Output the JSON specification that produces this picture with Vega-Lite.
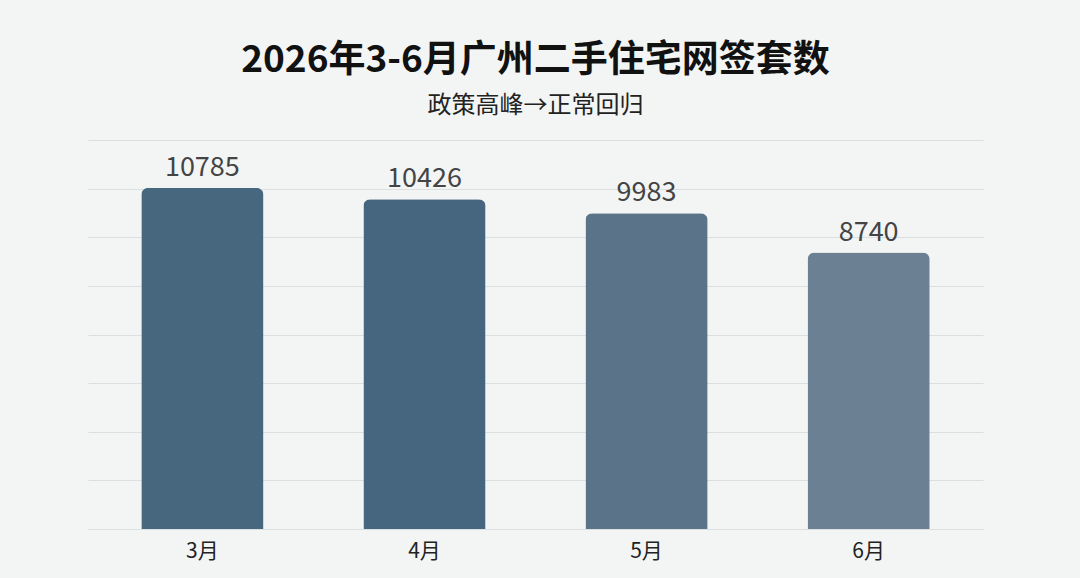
{
  "$schema": "https://vega.github.io/schema/vega-lite/v6.json",
  "width": 895,
  "height": 389,
  "autosize": "none",
  "padding": {"left": 88, "top": 140, "right": 97, "bottom": 49},
  "background": "#f3f5f4",
  "config": {
    "view": {"stroke": "transparent"},
    "font": "Noto Sans CJK SC"
  },
  "title": {
    "text": "2026年3-6月广州二手住宅网签套数",
    "subtitle": "政策高峰→正常回归",
    "anchor": "middle",
    "font": "Noto Sans CJK SC",
    "fontSize": 37,
    "fontWeight": "bold",
    "color": "#111111",
    "subtitleFont": "Noto Sans CJK SC",
    "subtitleFontSize": 24,
    "subtitleColor": "#222222",
    "subtitlePadding": 14,
    "offset": 21
  },
  "data": {
    "values": [
      {"month": "3月", "count": 10785},
      {"month": "4月", "count": 10426},
      {"month": "5月", "count": 9983},
      {"month": "6月", "count": 8740}
    ]
  },
  "encoding": {
    "x": {
      "field": "month",
      "type": "nominal",
      "sort": null,
      "title": null,
      "scale": {"paddingInner": 0.45, "paddingOuter": 0.24},
      "axis": {
        "labelAngle": 0,
        "labelFontSize": 21,
        "labelColor": "#222222",
        "labelPadding": 11,
        "ticks": false,
        "domain": false
      }
    },
    "y": {
      "field": "count",
      "type": "quantitative",
      "title": null,
      "scale": {"domain": [0, 12300], "nice": false},
      "axis": {
        "values": [0, 1537.5, 3075, 4612.5, 6150, 7687.5, 9225, 10762.5, 12300],
        "labels": false,
        "ticks": false,
        "domain": false,
        "grid": true,
        "gridColor": "#dcdfdf",
        "gridWidth": 1
      }
    }
  },
  "layer": [
    {
      "mark": {"type": "bar", "cornerRadiusTopLeft": 7, "cornerRadiusTopRight": 7},
      "encoding": {
        "color": {
          "field": "month",
          "type": "nominal",
          "legend": null,
          "scale": {
            "domain": ["3月", "4月", "5月", "6月"],
            "range": ["#47677f", "#46657e", "#5a7388", "#6c8093"]
          }
        }
      }
    },
    {
      "mark": {
        "type": "text",
        "baseline": "bottom",
        "dy": -6,
        "fontSize": 27,
        "color": "#444444"
      },
      "encoding": {
        "text": {"field": "count", "type": "quantitative", "format": "d"}
      }
    }
  ]
}
